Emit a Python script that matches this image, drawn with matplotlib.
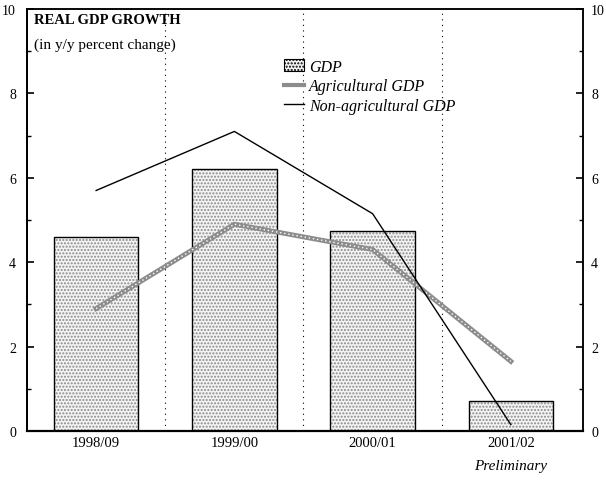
import matplotlib
matplotlib.use('Agg')
import matplotlib.pyplot as plt
from matplotlib.patches import Patch
from matplotlib.lines import Line2D
import numpy as np

plt.rcParams['font.family'] = ['Liberation Serif', 'DejaVu Serif']

years = ['1998/09', '1999/00', '2000/01', '2001/02']
gdp = [4.6, 6.2, 4.75, 0.7]
agri_gdp = [2.9, 4.9, 4.3, 1.65]
nonagri_gdp = [5.7, 7.1, 5.15, 0.15]

x = np.arange(len(years))

fig = plt.figure(figsize=(6.06, 4.81), dpi=100)
ax = fig.add_axes([0.0446, 0.102, 0.917, 0.877])

# stippled bars: hatch layer first, black outline on top
ax.bar(x, gdp, width=0.61, color='#f4f4f4', hatch='.....', edgecolor='#8a8a8a',
       linewidth=0, zorder=2)
ax.bar(x, gdp, width=0.61, fill=False, edgecolor='black', linewidth=1.0, zorder=3)

# separators between fiscal years
for xs in [0.5, 1.5, 2.5]:
    ax.axvline(xs, color='black', linestyle=(0, (1, 4)), linewidth=0.8, zorder=1)

ax.plot(x, agri_gdp, color='#8c8c8c', linewidth=3.5, zorder=4)
ax.plot(x, agri_gdp, color='white', linewidth=1.0, linestyle=(0, (1, 2)), zorder=5)
ax.plot(x, nonagri_gdp, color='black', linewidth=1.0, zorder=6)

ax.set_xlim(-0.5, 3.52)
ax.set_ylim(0, 10)
ax.set_yticks(range(0, 11, 2))
ax.set_yticks(range(1, 10, 2), minor=True)
ax.set_xticks(x)
ax.set_xticklabels(years, fontsize=10.5)
ax.tick_params(axis='x', length=0, pad=4)
ax.tick_params(axis='y', which='major', direction='in', length=5, width=1.2,
               labelsize=10, pad=8)
ax.tick_params(axis='y', which='minor', direction='in', length=3, width=1.0)

ax2 = ax.twinx()
ax2.set_ylim(0, 10)
ax2.set_yticks(range(0, 11, 2))
ax2.set_yticks(range(1, 10, 2), minor=True)
ax2.tick_params(axis='y', which='major', direction='in', length=5, width=1.2,
                labelsize=10, pad=6)
ax2.tick_params(axis='y', which='minor', direction='in', length=3, width=1.0)

for a in (ax, ax2):
    for s in a.spines.values():
        s.set_linewidth(1.1)
ax.spines['bottom'].set_linewidth(1.6)
ax.spines['left'].set_linewidth(1.4)

ax.text(0.012, 0.976, 'REAL GDP GROWTH', transform=ax.transAxes, fontsize=10.5,
        fontweight='bold', va='center', ha='left')
ax.text(0.012, 0.917, '(in y/y percent change)', transform=ax.transAxes, fontsize=11,
        va='center', ha='left')

handles = [
    Patch(facecolor='#f4f4f4', edgecolor='black', hatch='.....', linewidth=0.8),
    Line2D([], [], color='#8c8c8c', linewidth=3),
    Line2D([], [], color='black', linewidth=1.0),
]
labels = ['GDP', 'Agricultural GDP', 'Non-agricultural GDP']
ax.legend(handles, labels, loc='upper left', bbox_to_anchor=(0.463, 0.882),
          frameon=False, prop={'style': 'italic', 'size': 11.5}, handlelength=1.25,
          handleheight=0.8, handletextpad=0.3, labelspacing=0.22, borderaxespad=0,
          borderpad=0)

ax.text(3, -0.83, 'Preliminary', fontsize=11, style='italic', ha='center', va='center')

fig.savefig('out.png', dpi=100)
